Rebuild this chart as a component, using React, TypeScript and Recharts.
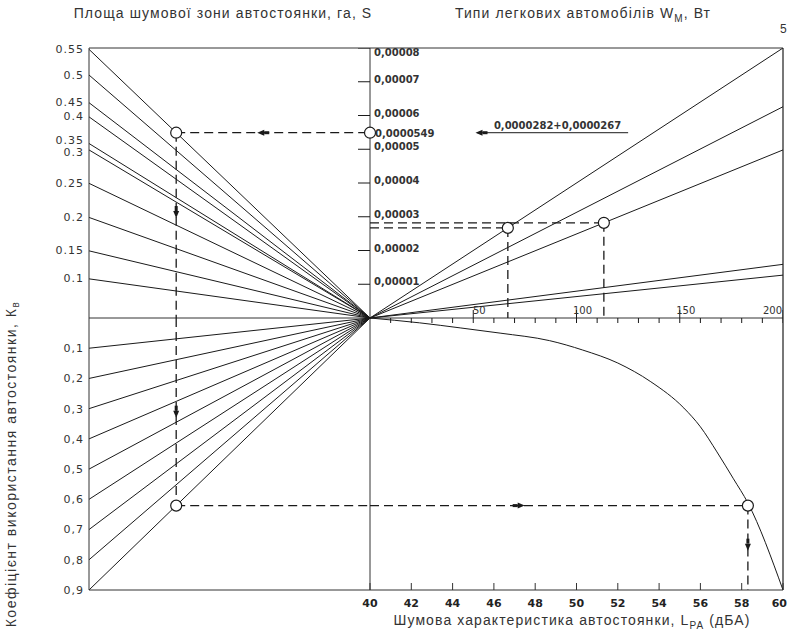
import { ComposedChart, Line, Scatter, XAxis, YAxis, ReferenceLine } from "recharts";

type Pt = { x: number; y: number };

// upper-left fan: noise zone area S, and the height where each line meets the left edge (x 1e-5)
const sLabels = ["0.55", "0.5", "0.45", "0.4", "0.35", "0.3", "0.25", "0.2", "0.15", "0.1"];
const sEdge = [7.96, 7.2, 6.38, 5.96, 5.17, 4.98, 3.99, 2.98, 1.99, 1.16];

// lower-left fan: usage coefficient K
const kValues = [0.1, 0.2, 0.3, 0.4, 0.5, 0.6, 0.7, 0.8, 0.9];
const kLabels = ["0,1", "0,2", "0,3", "0,4", "0,5", "0,6", "0,7", "0,8", "0,9"];

// upper-right rays: car types, value reached at W = 200
const carEdge = [8.0, 6.26, 4.98, 1.59, 1.27];
const wTicks = [10, 20, 30, 40, 50, 60, 70, 80, 90, 100, 110, 120, 130, 140, 150, 160, 170, 180, 190, 200];
const wLabels = [50, 100, 150, 200];

// centre scale (x 1e-5)
const eTicks = [1, 2, 3, 4, 5, 6, 7, 8];
const eLabels = ["0,00001", "0,00002", "0,00003", "0,00004", "0,00005", "0,00006", "0,00007", "0,00008"];

// bottom scale, dBA
const lTicks = [40, 42, 44, 46, 48, 50, 52, 54, 56, 58, 60];

// lower-right curve L -> K
const curveL = [40, 42.4, 44.4, 46.3, 48.7, 50.3, 52.0, 53.6, 55.2, 56.0, 56.8, 57.6, 58.3, 60];
const curveK = [0, 0.016, 0.033, 0.05, 0.075, 0.106, 0.149, 0.211, 0.298, 0.36, 0.443, 0.532, 0.612, 0.9];

// worked example
const pickS = 0; // S = 0.55
const eTotal = 5.49;
const eParts = [2.67, 2.82];
const partCar = [0, 2];
const pickK = 0.9;
const lResult = 58.3;
const noteFrom = 52;
const noteTo = 125;

// plot geometry (pixels either side of the centre lines)
const LEFT = 281, RIGHT = 413, UP = 270, DOWN = 272;
const W_MAX = 200;
const E_MAX = 8;
const K_MAX = 0.9;
const L_MAX = 60;
const wDomain = [-W_MAX * LEFT / RIGHT, W_MAX];
const lDomain = [40 - 20 * LEFT / RIGHT, L_MAX];
const fDomain = [-1, RIGHT / LEFT];
const eDomain = [-E_MAX * DOWN / UP, E_MAX];
const kDomain = [-K_MAX * UP / DOWN, K_MAX];

const ink = "#1a1a1a";
const fmt = (e: number) => (e * 1e-5).toFixed(7).replace(".", ",");

const fPick = -eTotal / sEdge[pickS];
const kAt = pickK * -fPick;
const wParts = eParts.map((e, i) => (e * W_MAX) / carEdge[partCar[i]]);

const line = (key: string, data: Pt[], xId: string, yId: string, dashed = false, type: any = "linear") => (
  <Line
    key={key}
    data={data}
    dataKey="y"
    xAxisId={xId}
    yAxisId={yId}
    type={type}
    stroke={ink}
    strokeWidth={dashed ? 1.3 : 1}
    strokeDasharray={dashed ? "9 5" : undefined}
    dot={false}
    activeDot={false}
    isAnimationActive={false}
    legendType="none"
  />
);

const Ring = (p: any) => <circle cx={p.cx} cy={p.cy} r={5.5} fill="#fff" stroke={ink} strokeWidth={1.2} />;

const Arrow = (p: any) => {
  const dir = p.payload.dir;
  const rot = dir === "down" ? 0 : dir === "left" ? 90 : -90;
  return (
    <g transform={`translate(${p.cx},${p.cy}) rotate(${rot})`}>
      <rect x={-1.5} y={-6} width={3} height={5} fill={ink} />
      <path d="M-3,-1 L3,-1 L0,6 Z" fill={ink} />
    </g>
  );
};

const CentreTick = (p: any) => {
  const top = p.payload.y === E_MAX;
  return (
    <g>
      <line x1={p.cx - 12} x2={p.cx} y1={p.cy} y2={p.cy} stroke={ink} />
      <text x={p.cx + 4} y={top ? p.cy + 5 : p.cy - 2} dominantBaseline="middle" fontSize={10} fontWeight={700} fontFamily="DejaVu Sans" fill="#333">
        {eLabels[eTicks.indexOf(p.payload.y)]}
      </text>
    </g>
  );
};

const WTick = (p: any) => {
  const i = wLabels.indexOf(p.payload.x);
  const last = p.payload.x === W_MAX;
  return (
    <g>
      <line x1={p.cx} x2={p.cx} y1={p.cy - (i >= 0 ? 8 : 0)} y2={p.cy + 5} stroke={ink} />
      {i >= 0 && (
        <text x={last ? p.cx - 1 : p.cx + 6} y={p.cy - 4} textAnchor={last ? "end" : "middle"} fontSize={10} fontFamily="DejaVu Sans" fill="#333">
          {wLabels[i]}
        </text>
      )}
    </g>
  );
};

const Note = (p: any) => {
  const centre = p.payload.x === 0;
  return (
    <text x={centre ? p.cx + 5 : p.cx} y={centre ? p.cy + 1 : p.cy - 4} dominantBaseline={centre ? "middle" : "auto"} fontSize={10} fontWeight={700} fontFamily="DejaVu Sans" fill="#333">
      {p.payload.text}
    </text>
  );
};

// S labels on the left edge; labels that sit too close are pushed apart a little
const PX_PER_E = UP / E_MAX;
const SLabel = (p: any) => {
  const i = sEdge.indexOf(p.payload.value);
  const gapUp = i > 0 ? (sEdge[i - 1] - sEdge[i]) * PX_PER_E : 99;
  const gapDown = i < sEdge.length - 1 ? (sEdge[i] - sEdge[i + 1]) * PX_PER_E : 99;
  const nudge = (gapUp < 12 ? (12 - gapUp) / 2 : 0) - (gapDown < 12 ? (12 - gapDown) / 2 : 0);
  return (
    <text x={p.x} y={p.y + nudge} textAnchor="end" dominantBaseline="central" fontSize={11} letterSpacing={1} fill="#333" fontFamily="DejaVu Sans">
      {sLabels[i]}
    </text>
  );
};

// bottom labels; the last one is kept inside the picture
const LLabel = (p: any) => {
  const last = p.payload.value === L_MAX;
  return (
    <text x={last ? p.x + 4 : p.x} y={p.y} dy="0.71em" textAnchor={last ? "end" : "middle"} fontSize={11} fontWeight={700} fill="#222" fontFamily="DejaVu Sans">
      {p.payload.value}
    </text>
  );
};

const tickFont = { fontSize: 11, fill: "#333", fontFamily: "DejaVu Sans", letterSpacing: 1 };

export default function App() {
  const lines = [
    ...sEdge.map((e, i) => line(`s${i}`, [{ x: -1, y: e }, { x: 0, y: 0 }], "F", "E")),
    ...kValues.map((k, i) => line(`k${i}`, [{ x: -1, y: k }, { x: 0, y: 0 }], "F", "K")),
    ...carEdge.map((e, i) => line(`c${i}`, [{ x: 0, y: 0 }, { x: W_MAX, y: e }], "W", "E")),
    line("curve", curveL.map((l, i) => ({ x: l, y: curveK[i] })), "L", "K", false, "monotone"),
    line("d1", [{ x: fPick, y: eTotal }, { x: 0, y: eTotal }], "F", "E", true),
    line("d2", [{ x: fPick, y: eTotal }, { x: fPick, y: 0 }], "F", "E", true),
    line("d3", [{ x: fPick, y: 0 }, { x: fPick, y: kAt }], "F", "K", true),
    line("d4", [{ x: fPick, y: kAt }, { x: 0, y: kAt }], "F", "K", true),
    line("d5", [{ x: 40, y: kAt }, { x: lResult, y: kAt }], "L", "K", true),
    line("d6", [{ x: lResult, y: kAt }, { x: lResult, y: K_MAX }], "L", "K", true),
    ...eParts.map((e, i) => line(`h${i}`, [{ x: 0, y: e }, { x: wParts[i], y: e }], "W", "E", true)),
    ...eParts.map((e, i) => line(`v${i}`, [{ x: wParts[i], y: e }, { x: wParts[i], y: 0 }], "W", "E", true)),
    line("note", [{ x: noteFrom, y: eTotal }, { x: noteTo, y: eTotal }], "W", "E"),
  ];

  const title = { position: "absolute" as const, fontFamily: "Liberation Sans", fontSize: 14, letterSpacing: 1.1, color: "#333", whiteSpace: "nowrap" as const };

  return (
    <div style={{ position: "relative", width: 788, height: 641, background: "#fff" }}>
      <style>{"body{margin:0}"}</style>
      <div style={{ ...title, left: 223, top: 5, transform: "translateX(-50%)" }}>Площа шумової зони автостоянки, га, S</div>
      <div style={{ ...title, left: 583, top: 5, transform: "translateX(-50%)" }}>
        Типи легкових автомобілів W<sub style={{ fontSize: 10 }}>М</sub>, Вт
      </div>
      <div style={{ ...title, left: 572, top: 612, transform: "translateX(-50%)" }}>
        Шумова характеристика автостоянки, L<sub style={{ fontSize: 10 }}>PA</sub> (дБА)
      </div>
      <div style={{ ...title, letterSpacing: 1.5, left: 12, top: 464, transform: "translate(-50%,-50%) rotate(-90deg)" }}>
        Коефіцієнт використання автостоянки, К<sub style={{ fontSize: 10 }}>в</sub>
      </div>
      <div style={{ ...title, left: 780, top: 22, fontSize: 12 }}>5</div>
      <div style={{ position: "absolute", left: 0, top: 0 }}>
        <ComposedChart width={788} height={641} margin={{ top: 48, right: 5, bottom: 21, left: 87 }}>
          <XAxis
            xAxisId="L"
            dataKey="x"
            type="number"
            domain={lDomain}
            allowDataOverflow
            ticks={lTicks}
            interval={0}
            height={30}
            tickSize={-7}
            tickMargin={16}
            axisLine={{ stroke: "#333" }}
            tickLine={{ stroke: "#333" }}
            tick={LLabel}
          />
          <XAxis xAxisId="F" dataKey="x" type="number" domain={fDomain} allowDataOverflow hide height={0} />
          <XAxis xAxisId="W" dataKey="x" type="number" domain={wDomain} allowDataOverflow hide height={0} />
          <YAxis
            yAxisId="E"
            dataKey="y"
            type="number"
            domain={eDomain}
            allowDataOverflow
            width={1}
            ticks={sEdge}
            interval={0}
            tickLine={false}
            tickSize={0}
            tickMargin={5}
            axisLine={{ stroke: "#333" }}
            tick={SLabel}
          />
          <YAxis
            yAxisId="K"
            dataKey="y"
            type="number"
            reversed
            domain={kDomain}
            allowDataOverflow
            width={1}
            ticks={kValues}
            interval={0}
            tickFormatter={(v: number) => kLabels[kValues.indexOf(v)]}
            tickLine={false}
            tickSize={0}
            tickMargin={4}
            axisLine={false}
            tick={tickFont}
          />
          <ReferenceLine xAxisId="L" yAxisId="E" y={E_MAX} stroke="#333" ifOverflow="visible" />
          <ReferenceLine xAxisId="L" yAxisId="E" x={L_MAX} stroke="#777" strokeWidth={2} ifOverflow="visible" />
          <ReferenceLine xAxisId="L" yAxisId="E" y={0} stroke="#333" ifOverflow="visible" />
          <ReferenceLine xAxisId="L" yAxisId="E" x={40} stroke="#333" ifOverflow="visible" />
          {lines}
          <Scatter xAxisId="W" yAxisId="E" data={eTicks.map((e) => ({ x: 0, y: e }))} shape={CentreTick} isAnimationActive={false} legendType="none" />
          <Scatter xAxisId="W" yAxisId="E" data={wTicks.map((w) => ({ x: w, y: 0 }))} shape={WTick} isAnimationActive={false} legendType="none" />
          <Scatter xAxisId="F" yAxisId="E" data={[{ x: fPick, y: eTotal }, { x: 0, y: eTotal }]} shape={Ring} isAnimationActive={false} legendType="none" />
          <Scatter xAxisId="F" yAxisId="K" data={[{ x: fPick, y: kAt }]} shape={Ring} isAnimationActive={false} legendType="none" />
          <Scatter xAxisId="L" yAxisId="K" data={[{ x: lResult, y: kAt }]} shape={Ring} isAnimationActive={false} legendType="none" />
          <Scatter xAxisId="W" yAxisId="E" data={wParts.map((w, i) => ({ x: w, y: eParts[i] }))} shape={Ring} isAnimationActive={false} legendType="none" />
          <Scatter
            xAxisId="F"
            yAxisId="E"
            data={[{ x: -0.38, y: eTotal, dir: "left" }, { x: fPick, y: 3.14, dir: "down" }]}
            shape={Arrow}
            isAnimationActive={false}
            legendType="none"
          />
          <Scatter xAxisId="F" yAxisId="K" data={[{ x: fPick, y: 0.31, dir: "down" }]} shape={Arrow} isAnimationActive={false} legendType="none" />
          <Scatter
            xAxisId="L"
            yAxisId="K"
            data={[{ x: 47.2, y: kAt, dir: "right" }, { x: lResult, y: 0.75, dir: "down" }]}
            shape={Arrow}
            isAnimationActive={false}
            legendType="none"
          />
          <Scatter xAxisId="W" yAxisId="E" data={[{ x: noteFrom + 2, y: eTotal, dir: "left" }]} shape={Arrow} isAnimationActive={false} legendType="none" />
          <Scatter
            xAxisId="W"
            yAxisId="E"
            data={[
              { x: 0, y: eTotal, text: fmt(eTotal) },
              { x: 60, y: eTotal, text: `${fmt(eParts[1])}+${fmt(eParts[0])}` },
            ]}
            shape={Note}
            isAnimationActive={false}
            legendType="none"
          />
        </ComposedChart>
      </div>
    </div>
  );
}
